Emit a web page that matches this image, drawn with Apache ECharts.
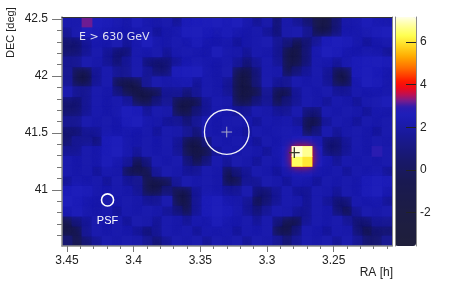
<!DOCTYPE html>
<html><head><meta charset="utf-8">
<script src="https://cdn.jsdelivr.net/npm/echarts@6/dist/echarts.min.js"></script>
<style>html,body{margin:0;padding:0;background:#fff}#c{width:463px;height:284px}</style>
</head><body><div id="c"></div>
<script>
// ---- grid of the sky map (cell centres) ----
const raStep = 0.0075, decStep = 0.0875;
const raBins = [3.45,3.4425,3.435,3.4275,3.42,3.4125,3.405,3.3975,3.39,3.3825,3.375,3.3675,3.36,3.3525,3.345,3.3375,3.33,3.3225,3.315,3.3075,3.3,3.2925,3.285,3.2775,3.27,3.2625,3.255,3.2475,3.24,3.2325,3.225,3.2175,3.21];
const decBins = [42.475,42.3875,42.3,42.2125,42.125,42.0375,41.95,41.8625,41.775,41.6875,41.6,41.5125,41.425,41.3375,41.25,41.1625,41.075,40.9875,40.9,40.8125,40.725,40.6375,40.55];
// significance per cell, rows from top (high DEC) to bottom, columns from high RA to low RA
const significance = [
[2.2,2.2,3.2,2.6,2.5,2.3,2.1,2.5,2.2,2.1,2.2,1.5,2.5,2.6,2.6,2.6,2.5,2.6,2.2,1.5,2.1,0.6,2.1,1.5,0.6,-1.3,-1.4,0.6,2.1,2.2,2.5,2.3,2.2],
[1.5,2.2,2.6,2.5,2.3,2.2,2.1,2.2,2.3,1.5,2.1,2.2,2.6,2.6,2.5,2.3,2.5,2.2,2.1,2.2,1.5,0.6,2.1,2.2,1.4,-1.4,-1.5,0.6,2.1,2.2,2.3,2.5,2.6],
[0.6,0.5,1.5,2.2,2.1,2.3,1.5,2.2,2.6,2.2,2.1,2.3,2.2,2.5,2.2,2.1,2.2,1.5,2.1,2.2,2.3,1.5,0.6,-1.4,0.5,1.5,2.5,2.6,2.5,2.2,1.5,2.1,2.2],
[0.6,0.6,1.5,2.2,1.5,0.6,0.6,2.2,2.1,2.2,1.5,2.2,2.3,2.2,2.1,2.5,2.2,2.1,1.5,2.2,2.1,1.4,-1.4,-1.5,0.6,2.2,2.6,2.5,2.2,2.1,2.2,2.1,1.5],
[1.5,1.5,2.2,2.1,1.5,0.6,1.5,2.2,0.6,0.5,0.6,1.5,2.2,2.3,2.2,2.1,2.2,1.5,0.6,1.5,2.2,1.5,-1.3,-1.4,0.6,2.2,2.1,1.5,2.2,2.5,2.6,2.6,2.5],
[1.5,-1.3,-1.4,1.5,2.2,1.5,1.5,2.2,1.5,0.6,0.6,2.5,2.6,2.6,2.2,2.1,2.2,-1.3,-1.4,0.6,2.2,2.1,-1.2,0.6,1.5,2.2,1.5,-1.3,-1.3,2.5,2.6,2.5,2.2],
[1.5,-1.4,-1.5,1.5,2.2,-1.2,-1.4,-1.3,1.5,2.2,2.1,2.2,2.3,1.5,2.2,2.1,1.5,-1.4,-1.5,0.6,2.2,1.5,1.5,2.2,2.1,2.2,1.5,-1.3,-1.4,2.2,2.6,2.5,2.2],
[2.2,1.5,1.5,2.2,2.1,0.6,-1.3,-1.5,-1.4,-1.3,1.5,1.5,0.6,1.5,2.2,2.1,1.5,-1.4,-1.6,-1.3,1.5,-1.3,-1.4,1.5,2.2,2.1,2.2,1.5,1.5,2.2,2.1,2.2,2.2],
[0.6,0.5,1.5,2.2,2.1,2.2,1.5,-1.3,-1.4,0.6,1.5,-1.3,-1.5,-1.4,1.5,2.2,2.1,-1.3,-1.4,0.6,1.5,-1.3,0.6,1.5,2.2,2.1,1.5,2.2,2.1,1.5,2.2,2.3,2.5],
[0.6,0.6,1.5,2.2,2.1,2.2,2.6,2.5,1.5,2.2,2.1,-1.3,-1.4,0.6,1.5,2.2,2.1,1.5,1.5,2.2,2.1,1.5,1.5,2.2,0.6,0.5,2.2,2.1,2.2,2.1,1.5,2.2,2.1],
[1.5,1.5,2.2,2.1,2.2,2.1,2.5,2.6,2.2,2.1,1.5,1.5,0.6,1.5,2.2,2.1,2.2,2.2,2.1,1.5,2.2,2.1,2.2,1.5,-1.3,-1.4,1.5,2.2,2.1,1.5,2.2,2.1,2.2],
[0.6,0.6,1.5,1.5,2.2,2.1,2.2,2.1,2.2,1.5,2.2,2.1,1.5,0.6,2.2,2.1,2.2,2.1,1.5,2.2,2.1,2.2,2.3,2.2,-1.2,0.6,2.2,1.5,2.1,2.2,2.1,1.5,2.2],
[0.6,1.5,1.5,0.6,2.5,2.6,2.2,2.1,2.2,2.1,2.2,1.5,-1.3,-1.4,0.6,2.2,2.1,2.2,2.1,1.5,2.2,2.1,2.3,2.6,2.6,2.2,0.6,0.6,1.5,2.2,2.1,2.2,2.1],
[1.5,1.5,2.2,2.1,2.5,2.6,2.2,1.5,2.2,2.1,2.2,1.5,-1.3,-1.5,-1.3,1.5,2.2,2.1,2.2,2.1,1.5,2.2,2.6,7.1,6.7,2.6,0.6,0.6,1.5,2.2,2.1,2.9,2.2],
[2.2,2.1,2.2,2.1,2.5,2.2,1.5,-1.3,0.6,2.2,2.1,2.2,0.6,-1.4,0.6,2.2,1.5,2.2,2.1,1.5,2.2,2.1,2.6,6.4,6.0,2.6,2.2,1.5,2.2,2.1,2.2,2.1,2.2],
[2.2,2.1,2.2,1.5,2.2,2.1,-1.3,-1.5,-1.3,1.5,2.2,2.1,1.5,1.5,2.2,2.1,-1.3,0.6,1.5,2.2,2.1,1.5,2.2,2.5,2.5,2.2,2.1,2.2,1.5,2.2,2.1,2.2,1.5],
[1.5,2.2,2.1,2.2,1.5,2.2,1.5,1.5,-1.3,-1.5,-1.3,1.5,2.2,2.1,2.2,2.1,-1.4,-1.3,1.5,1.5,2.2,2.1,1.5,2.2,2.1,1.5,2.2,2.1,2.2,2.1,2.5,2.6,2.5],
[2.5,2.6,2.5,2.2,2.1,2.2,2.1,1.5,-1.3,-1.4,0.6,-1.3,-1.4,1.5,2.2,2.1,1.5,1.5,2.2,0.6,0.6,1.5,2.2,1.5,1.5,2.2,2.1,1.5,2.2,2.1,2.5,2.6,2.2],
[2.6,2.5,2.2,2.1,2.2,2.1,2.2,2.1,1.5,1.5,2.2,-1.3,-1.4,1.5,2.5,2.6,2.2,2.1,1.5,-1.2,0.6,1.5,2.2,2.1,1.5,2.2,1.5,0.6,0.6,2.2,2.1,2.2,1.5],
[2.2,2.5,2.2,2.1,2.2,1.5,2.2,2.1,2.2,2.1,1.5,0.6,-1.3,1.5,2.5,2.6,2.5,2.2,1.5,0.6,1.5,2.2,2.1,1.5,1.5,2.2,2.1,0.6,-1.3,1.5,2.2,2.1,2.2],
[-1.3,0.6,1.5,2.2,2.1,2.2,1.5,2.2,2.1,1.5,2.2,2.1,1.5,2.2,2.1,2.5,2.2,2.1,2.2,1.5,2.2,0.6,-1.3,-1.4,1.5,2.2,2.1,2.2,1.5,0.6,0.6,1.5,1.5],
[-1.4,-1.3,1.5,2.2,2.1,2.2,2.1,1.5,0.6,1.5,2.2,2.1,2.2,1.5,2.2,2.1,2.2,1.5,2.2,2.1,2.2,-1.3,-1.4,0.6,2.2,2.1,1.5,2.2,2.1,0.6,-1.3,0.6,0.6],
[0.6,-1.3,0.6,1.5,2.2,2.1,2.2,2.1,1.5,0.6,1.5,2.2,2.1,2.2,1.5,2.2,2.1,2.2,1.5,2.2,2.1,1.5,0.6,1.5,2.2,2.1,2.2,1.5,2.2,1.5,0.6,0.6,1.5]
];
// ---- ticks ----
const raMajor = [3.45,3.4,3.35,3.3,3.25];
const raMinor = [3.44,3.43,3.42,3.41,3.39,3.38,3.37,3.36,3.34,3.33,3.32,3.31,3.29,3.28,3.27,3.26,3.24,3.23,3.22,3.21];
const decMajor = [41,41.5,42,42.5];
const decMinor = [40.6,40.7,40.8,40.9,41.1,41.2,41.3,41.4,41.6,41.7,41.8,41.9,42.1,42.2,42.3,42.4];
const cbarTicks = [-2,0,2,4,6];
// ---- overlays ----
const roiRA = [3.3302], roiDEC = [41.508], roiRadius = [0.196];
const psfRA = [3.4196], psfDEC = [40.911], psfRadius = [0.053];
const srcRA = [3.2795], srcDEC = [41.327];
const zMin = -3.56, zMax = 7.17;

const cmapStops = [[-3.56,'#1f1f3b'],[-2,'#1d1d44'],[-0.5,'#191952'],[0.5,'#18186c'],[1.5,'#191992'],[2.2,'#1b1bad'],[2.6,'#1e1eba'],[2.95,'#2c1cb0'],[3.25,'#7a1c8c'],[3.55,'#c01050'],[3.85,'#f00818'],[4.15,'#ff1800'],[4.8,'#ff7000'],[5.3,'#ffa800'],[5.8,'#ffd820'],[6.3,'#ffff50'],[6.8,'#ffffa0'],[7.17,'#ffffe8']];
function h2r(h){return [parseInt(h.substr(1,2),16),parseInt(h.substr(3,2),16),parseInt(h.substr(5,2),16)];}
function cmap(v){
  for(let k=0;k<cmapStops.length-1;k++){
    const a=cmapStops[k], b=cmapStops[k+1];
    if(v<=b[0]){const t=Math.max(0,(v-a[0])/(b[0]-a[0]));const A=h2r(a[1]),B=h2r(b[1]);
      return 'rgb('+A.map((x,i)=>Math.round(x+(B[i]-x)*t)).join(',')+')';}
  }
  return cmapStops[cmapStops.length-1][1];
}
const cmapColors=[]; for(let k=0;k<=160;k++){cmapColors.push(cmap(zMin+(zMax-zMin)*k/160));}

const cells=[];
significance.forEach((row,j)=>row.forEach((v,i)=>cells.push([raBins[i],decBins[j],v])));

const FONT='Liberation Sans, Arial, sans-serif';
const gray='#8a8a8a';
const chart=echarts.init(document.getElementById('c'),null,{renderer:'canvas'});
chart.setOption({
  animation:false,
  grid:[{left:62,top:17,width:330,height:229},{left:395,top:17,width:21,height:229}],
  xAxis:[
    {gridIndex:0,type:'value',inverse:true,min:3.20625,max:3.45375,position:'bottom',z:10,
     axisLine:{show:true,onZero:false,lineStyle:{color:gray,width:1.5}},
     axisTick:{show:true,customValues:raMajor,length:6,lineStyle:{color:'#777'}},
     axisLabel:{customValues:raMajor,margin:9,fontSize:12,color:'#222',fontFamily:FONT},splitLine:{show:false}},
    {gridIndex:0,type:'value',inverse:true,min:3.20625,max:3.45375,position:'bottom',z:10,
     axisLine:{show:false,onZero:false},axisTick:{show:true,customValues:raMinor,length:3,lineStyle:{color:'#777'}},
     axisLabel:{show:false},splitLine:{show:false}},
    {gridIndex:0,type:'value',inverse:true,min:3.20625,max:3.45375,position:'top',z:10,
     axisLine:{show:true,onZero:false,lineStyle:{color:'#333',width:1}},axisTick:{show:false},axisLabel:{show:false},splitLine:{show:false}},
    {gridIndex:1,type:'value',min:0,max:1,show:false}
  ],
  yAxis:[
    {gridIndex:0,type:'value',min:40.50625,max:42.519,position:'left',z:10,
     axisLine:{show:true,onZero:false,lineStyle:{color:gray,width:1.5}},
     axisTick:{show:true,customValues:decMajor,length:10,lineStyle:{color:'#777'}},
     axisLabel:{customValues:decMajor,margin:14,fontSize:12,color:'#222',fontFamily:FONT},splitLine:{show:false}},
    {gridIndex:0,type:'value',min:40.50625,max:42.519,position:'left',z:10,
     axisLine:{show:false,onZero:false},axisTick:{show:true,customValues:decMinor,length:5,lineStyle:{color:'#777'}},
     axisLabel:{show:false},splitLine:{show:false}},
    {gridIndex:0,type:'value',min:40.50625,max:42.519,position:'right',z:10,
     axisLine:{show:true,onZero:false,lineStyle:{color:gray,width:1}},axisTick:{show:false},axisLabel:{show:false},splitLine:{show:false}},
    {gridIndex:1,type:'value',min:zMin,max:zMax,position:'right',z:10,
     axisLine:{show:true,onZero:false,lineStyle:{color:gray,width:1}},
     axisTick:{show:true,inside:true,customValues:cbarTicks,length:10,lineStyle:{color:'#222'}},
     axisLabel:{customValues:cbarTicks,margin:4,fontSize:12,color:'#222',fontFamily:FONT},splitLine:{show:false}},
    {gridIndex:1,type:'value',min:zMin,max:zMax,position:'left',z:10,
     axisLine:{show:true,onZero:false,lineStyle:{color:gray,width:1}},axisTick:{show:false},axisLabel:{show:false},splitLine:{show:false}}
  ],
  visualMap:{type:'continuous',min:zMin,max:zMax,dimension:2,seriesIndex:0,left:395,top:17,itemWidth:21,itemHeight:229,
    padding:0,calculable:false,inRange:{color:cmapColors},textStyle:{color:'transparent'},text:null,hoverLink:false},
  series:[
    {type:'custom',xAxisIndex:0,yAxisIndex:0,clip:true,silent:true,encode:{x:0,y:1},data:cells,
     renderItem:function(params,api){
       const v=api.value(2);
       const p=api.coord([api.value(0),api.value(1)]);
       const s=api.size([raStep,decStep]);
       const c=api.visual('color');
       const shape={x:p[0]-s[0]/2-0.4,y:p[1]-s[1]/2-0.4,width:s[0]+0.8,height:s[1]+0.8};
       if(v>4){
         return {type:'group',children:[
           {type:'rect',z2:900,shape:shape,style:{fill:'#ff1400',shadowBlur:9,shadowColor:'#ff1400'}},
           {type:'rect',z2:1000+Math.round(v*10),shape:shape,style:{fill:c}}
         ]};
       }
       const st={fill:c};
       if(v<2.8){st.shadowBlur=10;st.shadowColor=c;}
       return {type:'rect',z2:Math.round(v*10)+100,shape:shape,style:st};
     }},
    {type:'custom',xAxisIndex:0,yAxisIndex:0,silent:true,z:5,encode:{x:0,y:1},
     data:roiRA.map((r,i)=>[r,roiDEC[i],roiRadius[i]]),
     renderItem:function(params,api){
       const p=api.coord([api.value(0),api.value(1)]);
       const r=api.size([0,api.value(2)])[1];
       const a=api.size([0,0.047])[1];
       return {type:'group',children:[
         {type:'circle',shape:{cx:p[0],cy:p[1],r:r},style:{fill:'none',stroke:'#f2f2f8',lineWidth:1.3}},
         {type:'line',shape:{x1:p[0]-a,y1:p[1],x2:p[0]+a,y2:p[1]},style:{stroke:'#a8a8c8',lineWidth:1}},
         {type:'line',shape:{x1:p[0],y1:p[1]-a,x2:p[0],y2:p[1]+a},style:{stroke:'#a8a8c8',lineWidth:1}}
       ]};
     }},
    {type:'custom',xAxisIndex:0,yAxisIndex:0,silent:true,z:5,encode:{x:0,y:1},
     data:psfRA.map((r,i)=>[r,psfDEC[i],psfRadius[i]]),
     renderItem:function(params,api){
       const p=api.coord([api.value(0),api.value(1)]);
       const r=api.size([0,api.value(2)])[1];
       return {type:'group',children:[
         {type:'circle',shape:{cx:p[0],cy:p[1],r:r},style:{fill:'none',stroke:'#ffffff',lineWidth:1.6}},
         {type:'text',x:p[0],y:p[1]+r+15,style:{text:'PSF',fill:'#ffffff',font:'11px '+FONT,textAlign:'center',textVerticalAlign:'middle'}}
       ]};
     }},
    {type:'custom',xAxisIndex:0,yAxisIndex:0,silent:true,z:5,encode:{x:0,y:1},
     data:srcRA.map((r,i)=>[r,srcDEC[i]]),
     renderItem:function(params,api){
       const p=api.coord([api.value(0),api.value(1)]);
       const a=api.size([0,0.047])[1];
       return {type:'group',children:[
         {type:'line',shape:{x1:p[0]-a,y1:p[1],x2:p[0]+a,y2:p[1]},style:{stroke:'#3a3a2a',lineWidth:1.3}},
         {type:'line',shape:{x1:p[0],y1:p[1]-a,x2:p[0],y2:p[1]+a},style:{stroke:'#3a3a2a',lineWidth:1.3}}
       ]};
     }}
  ],
  graphic:[
    {type:'text',x:79,y:37,z:20,style:{text:'E > 630 GeV',fill:'#e2e2f2',font:'11px DejaVu Sans',textAlign:'left',textVerticalAlign:'middle'}},
    {type:'text',x:11,y:58,rotation:Math.PI/2,z:20,style:{text:'DEC [deg]',fill:'#222',font:'11px '+FONT,textAlign:'left',textVerticalAlign:'middle'}},
    {type:'text',x:393,y:273,z:20,style:{text:'RA [h]',fill:'#222',font:'12px '+FONT,textAlign:'right',textVerticalAlign:'middle'}}
  ]
});
</script></body></html>
